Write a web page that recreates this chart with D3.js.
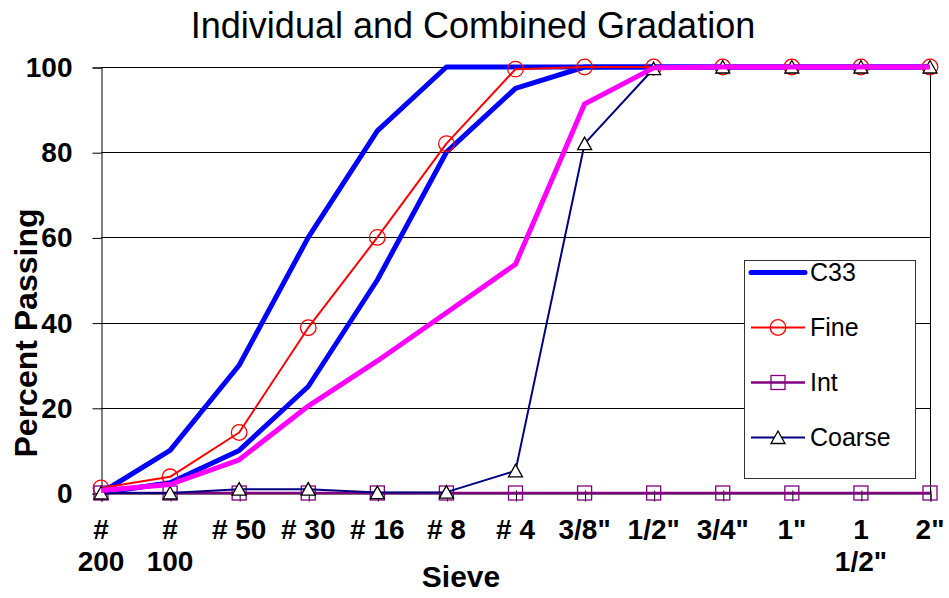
<!DOCTYPE html>
<html>
<head>
<meta charset="utf-8">
<script src="https://cdn.jsdelivr.net/npm/d3@7/dist/d3.min.js"></script>
<style>
  html, body { margin: 0; padding: 0; background: #fff; }
  svg { display: block; font-family: "Liberation Sans", Arial, Helvetica, sans-serif; }
</style>
</head>
<body>
<svg id="chart" width="949" height="598"></svg>
<script>
// Sieve sizes along the category axis
const sieves = ['# 200', '# 100', '# 50', '# 30', '# 16', '# 8', '# 4', '3/8"', '1/2"', '3/4"', '1"', '1 1/2"', '2"'];

// Percent passing for each sieve
const c33Lower   = [0, 2.4, 10, 25, 50, 80, 95, 100, 100, 100, 100, 100, 100];
const c33Upper   = [0, 10, 30, 60, 85, 100, 100, 100, 100, 100, 100, 100, 100];
const fine       = [1.2, 3.8, 14.2, 38.8, 60, 82, 99.5, 100, 100, 100, 100, 100, 100];
const intermed   = [0, 0, 0, 0, 0, 0, 0, 0, 0, 0, 0, 0, 0];
const coarse     = [0, 0, 0.9, 0.9, 0.1, 0.2, 5.2, 82, 99.6, 100, 100, 100, 100];
const combined   = [0.6, 2, 7.8, 20.4, 31, 42.3, 53.7, 91.3, 99.8, 100, 100, 100, 100];

const yTicks = [0, 20, 40, 60, 80, 100];
const legendNames = ['C33', 'Fine', 'Int', 'Coarse'];

const svg = d3.select('#chart');

const x = d3.scalePoint().domain(sieves).range([101, 930]).padding(0);
const y = d3.scaleLinear().domain([0, 100]).range([493, 67]);
const crisp = v => Math.round(v) + 0.5;

// Title
svg.append('text')
  .attr('x', 473).attr('y', 38)
  .attr('text-anchor', 'middle')
  .attr('font-size', 36)
  .attr('fill', '#000')
  .text('Individual and Combined Gradation');

// Horizontal gridlines
svg.append('g').selectAll('line')
  .data(yTicks.filter(t => t > 0))
  .join('line')
  .attr('x1', x(sieves[0])).attr('x2', x(sieves[sieves.length - 1]))
  .attr('y1', d => crisp(y(d))).attr('y2', d => crisp(y(d)))
  .attr('stroke', '#000').attr('stroke-width', 1);

// Plot area frame (right edge)
svg.append('line')
  .attr('x1', crisp(x(sieves[sieves.length - 1]))).attr('x2', crisp(x(sieves[sieves.length - 1])))
  .attr('y1', crisp(y(100))).attr('y2', crisp(y(0)))
  .attr('stroke', '#000').attr('stroke-width', 1);

// Y axis
const yAxis = svg.append('g')
  .attr('transform', `translate(${crisp(x(sieves[0]))},0.5)`)
  .call(d3.axisLeft(y).tickValues(yTicks).tickSize(9).tickPadding(20).tickFormat(d3.format('d')));
yAxis.select('.domain').attr('stroke', '#000');
yAxis.selectAll('.tick line').attr('stroke', '#000');
yAxis.selectAll('.tick text')
  .attr('font-size', 28).attr('font-weight', 'bold')
  .attr('font-family', '"Liberation Sans", Arial, sans-serif')
  .attr('fill', '#000');

// X axis
const xAxis = svg.append('g')
  .attr('transform', `translate(0.5,${crisp(y(0))})`)
  .call(d3.axisBottom(x).tickSize(8).tickFormat(''));
xAxis.select('.domain').attr('stroke', '#000');
xAxis.selectAll('.tick line').attr('stroke', '#000').attr('y1', -3);

// Category labels, wrapped on spaces when too wide for the band
const labelG = svg.append('g')
  .attr('font-size', 28).attr('font-weight', 'bold').attr('fill', '#000')
  .attr('text-anchor', 'middle');
const maxLabelWidth = 62;
sieves.forEach(s => {
  const t = labelG.append('text').attr('x', x(s)).attr('y', 539);
  const probe = t.append('tspan').text(s);
  let lines = [s];
  if (probe.node().getComputedTextLength() > maxLabelWidth) {
    const words = s.split(' ');
    lines = [];
    let cur = '';
    words.forEach(w => {
      const trial = cur ? cur + ' ' + w : w;
      probe.text(trial);
      if (cur && probe.node().getComputedTextLength() > maxLabelWidth) {
        lines.push(cur);
        cur = w;
      } else {
        cur = trial;
      }
    });
    lines.push(cur);
  }
  probe.remove();
  lines.forEach((ln, i) => {
    t.append('tspan').attr('x', x(s)).attr('y', 539 + i * 32).text(ln);
  });
});

// Axis titles
svg.append('text')
  .attr('transform', 'translate(37,333) rotate(-90)')
  .attr('text-anchor', 'middle')
  .attr('font-size', 32).attr('font-weight', 'bold')
  .text('Percent Passing');

svg.append('text')
  .attr('x', 461).attr('y', 587)
  .attr('text-anchor', 'middle')
  .attr('font-size', 30).attr('font-weight', 'bold')
  .text('Sieve');

// Series
const line = d3.line()
  .x((d, i) => x(sieves[i]))
  .y(d => y(d));

const series = [
  { values: c33Upper, color: '#0000FF', width: 5, marker: null },
  { values: c33Lower, color: '#0000FF', width: 5, marker: null },
  { values: fine,     color: '#FF0000', width: 2, marker: 'circle' },
  { values: intermed, color: '#800080', width: 2.5, marker: 'square' },
  { values: coarse,   color: '#000080', width: 2, marker: 'triangle' },
  { values: combined, color: '#FF00FF', width: 5, marker: null }
];

function drawMarker(g, type, cx, cy) {
  if (type === 'circle') {
    g.append('circle').attr('cx', cx).attr('cy', cy).attr('r', 7.8)
      .attr('fill', 'none').attr('stroke', '#FF0000').attr('stroke-width', 1.3);
  } else if (type === 'square') {
    g.append('rect').attr('x', cx - 7).attr('y', cy - 7).attr('width', 14).attr('height', 14)
      .attr('fill', 'none').attr('stroke', '#800080').attr('stroke-width', 1.3);
  } else if (type === 'triangle') {
    g.append('path')
      .attr('d', `M${cx},${cy - 6.5}L${cx + 7},${cy + 6}L${cx - 7},${cy + 6}Z`)
      .attr('fill', '#fff').attr('stroke', '#000').attr('stroke-width', 1.3);
  }
}

const plotG = svg.append('g');
series.forEach(s => {
  const g = plotG.append('g');
  g.append('path')
    .datum(s.values)
    .attr('d', line)
    .attr('fill', 'none')
    .attr('stroke', s.color)
    .attr('stroke-width', s.width)
    .attr('stroke-linejoin', 'round');
  if (s.marker) {
    s.values.forEach((v, i) => drawMarker(g, s.marker, x(sieves[i]), y(v)));
  }
});

// Legend
const legend = svg.append('g');
legend.append('rect')
  .attr('x', 744.5).attr('y', 260.5).attr('width', 171).attr('height', 218)
  .attr('fill', '#fff').attr('stroke', '#333').attr('stroke-width', 1);
const legendStyle = [series[0], series[2], series[3], series[4]];
legendNames.forEach((name, i) => {
  const cy = 272.5 + i * 55;
  const s = legendStyle[i];
  legend.append('line')
    .attr('x1', 751).attr('x2', 805).attr('y1', cy).attr('y2', cy)
    .attr('stroke', s.color).attr('stroke-width', s.width)
    .attr('stroke-linecap', s.marker ? 'butt' : 'round');
  if (s.marker) drawMarker(legend, s.marker, 778, cy);
  legend.append('text')
    .attr('x', 810).attr('y', cy)
    .attr('dy', '0.35em')
    .attr('font-size', 25)
    .attr('fill', '#000')
    .text(name);
});
</script>
</body>
</html>
